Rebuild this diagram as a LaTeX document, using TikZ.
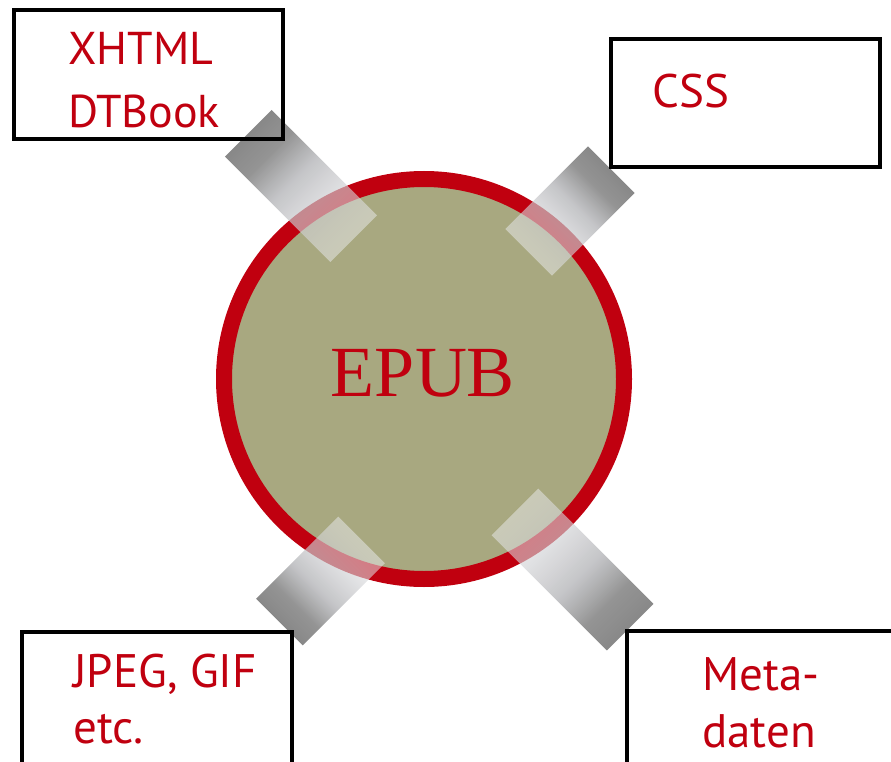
\documentclass[tikz,border=0pt]{standalone}
\usepackage{fontspec}
\setmainfont{PT Sans}
\newfontfamily\epubfont{Liberation Serif}
\usetikzlibrary{fadings}
\definecolor{eRed}{HTML}{C0000F}
\definecolor{eOlive}{HTML}{A8A880}
\definecolor{bardark}{HTML}{888888}
\definecolor{barmid}{HTML}{B4B5B8}
\definecolor{barlight}{HTML}{ECEDF0}
\pgfdeclarehorizontalshading{barshade}{100bp}{color(0bp)=(bardark); color(25bp)=(bardark); color(35bp)=(bardark); color(47bp)=(barmid); color(75bp)=(barlight); color(100bp)=(barlight)}
\tikzfading[name=barfade, left color=transparent!0, right color=transparent!50]
\newcommand\connbar[5]{%
  \coordinate (#1) at (#2,#3);
  \begin{scope}[transform canvas={shift={(#2,#3)}, rotate=#4}]
    \shade[shading=barshade, path fading=barfade] (-#5/2,-33) rectangle (#5/2,33);
  \end{scope}}
\tikzset{
  box/.style={draw=black, line width=4.5pt, inner sep=0pt},
  lbl/.style={text=eRed, anchor=base west, inner sep=0pt, font=\fontsize{47}{56}\selectfont},
}
\begin{document}
\begin{tikzpicture}[x=1pt,y=-1pt]
\useasboundingbox (0,0) rectangle (891,762);
\clip (0,0) rectangle (891,762);
% central circle
\node[circle, draw=eRed, line width=16pt, fill=eOlive, minimum size=400pt, inner sep=0pt] (epub) at (424,379) {};
\node[text=eRed, anchor=base, inner sep=0pt, font=\epubfont\fontsize{72}{80}\selectfont] (epubtext) at (423,396) {EPUB};
% connector bars
\connbar{barTL}{301}{186}{-45}{149}
\connbar{barTR}{570}{211}{-135}{117}
\connbar{barBL}{320.5}{581}{45}{116}
\connbar{barBR}{572.5}{569.5}{135}{163}
% boxes
\node[box, minimum width=269pt, minimum height=129pt] (xhtml) at (148.5,74.5) {};
\node[box, minimum width=269pt, minimum height=128pt] (css) at (745.5,103) {};
\node[box, minimum width=270pt, minimum height=148pt] (jpeg) at (157,706) {};
\node[box, minimum width=273pt, minimum height=149pt] (meta) at (763.5,705.5) {};
% labels
\node[lbl, font=\fontsize{46}{50}\selectfont] (t1) at (68,65) {XHTML};
\node[lbl, font=\fontsize{46}{50}\selectfont] (t2) at (68,128) {DTBook};
\node[lbl] (t3) at (652,108) {CSS};
\node[lbl] (t4) at (73,687) {JPEG, GIF};
\node[lbl] (t5) at (73,743) {etc.};
\node[lbl] (t6) at (702,690) {Meta-};
\node[lbl] (t7) at (702,747) {daten};
\end{tikzpicture}
\end{document}
